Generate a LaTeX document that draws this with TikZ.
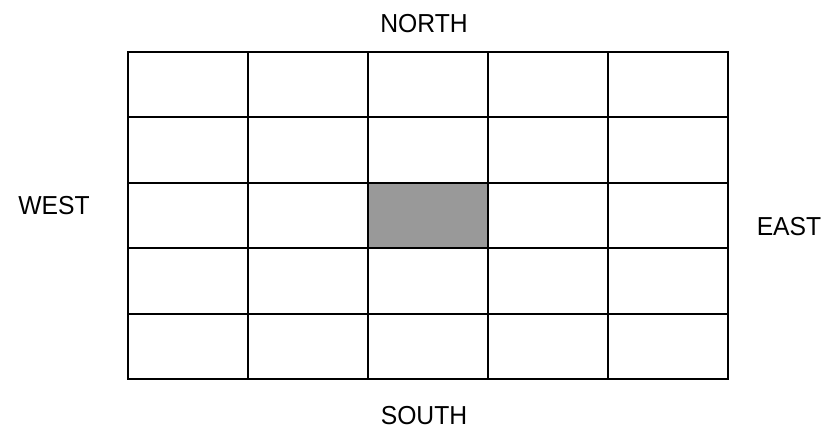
\documentclass[tikz,border=0pt]{standalone}
\usepackage{fontspec}
\setmainfont{Liberation Sans}
\begin{document}
\begin{tikzpicture}[x=1pt,y=-1pt,
  gridline/.style={line width=2pt,line cap=rect},
  dirlabel/.style={font=\fontsize{26}{30}\selectfont,inner sep=0pt,anchor=center,xscale=0.95},
  shadedcell/.style={fill=black!40}]
\useasboundingbox (0,0) rectangle (825,432);
\fill[shadedcell] (368,182.8) rectangle (488,248);
\foreach \x in {128,248,368,488,608,728}
  \draw[gridline] (\x,52) -- (\x,379);
\foreach \y in {52,117.4,182.8,248.2,313.6,379}
  \draw[gridline] (128,\y) -- (728,\y);
\node[dirlabel] (north) at (424,24) {NORTH};
\node[dirlabel] (south) at (424,416) {SOUTH};
\node[dirlabel] (west) at (54,206) {WEST};
\node[dirlabel] (east) at (789,227) {EAST};
\end{tikzpicture}
\end{document}
